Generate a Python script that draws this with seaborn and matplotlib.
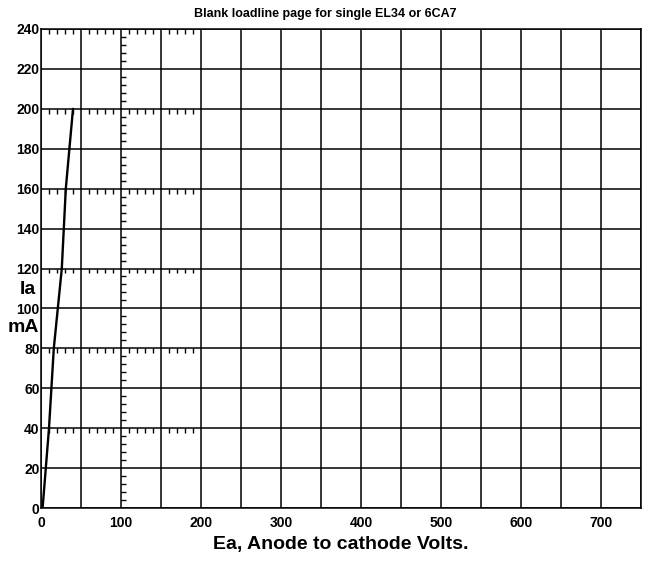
import numpy as np
import pandas as pd
import matplotlib
matplotlib.use("Agg")
import matplotlib.pyplot as plt
import seaborn as sns

# data
ea_volts = [2, 6, 10, 16, 21, 26, 31, 40]
ia_ma = [0, 20, 40, 80, 100, 120, 160, 200]
x_tick_labels = ["0", "", "100", "", "200", "", "300", "", "400", "", "500", "", "600", "", "700", ""]
y_tick_labels = ["0", "20", "40", "60", "80", "100", "120", "140", "160", "180", "200", "220", "240"]
title = "Blank loadline page for single EL34 or 6CA7"
xlabel = "Ea, Anode to cathode Volts."

sns.set_theme(style="white")
plt.rcParams['font.family'] = ['Liberation Sans', 'DejaVu Sans']
plt.rcParams['text.color'] = 'black'
plt.rcParams['xtick.color'] = 'black'
plt.rcParams['ytick.color'] = 'black'
plt.rcParams['axes.labelcolor'] = 'black'

fig = plt.figure(figsize=(6.59, 5.64), dpi=100)
ax = fig.add_axes([41/659, 56/564, 600/659, 479/564])

df = pd.DataFrame({"Ea": ea_volts, "Ia": ia_ma})
sns.lineplot(data=df, x="Ea", y="Ia", ax=ax, color="black", linewidth=1.7, sort=False)

ax.set_xlim(0, 750)
ax.set_ylim(0, 240)
ax.set_xticks(np.arange(0, 751, 50))
ax.set_xticklabels(x_tick_labels)
ax.set_yticks(np.arange(0, 241, 20))
ax.set_yticklabels(y_tick_labels)
ax.grid(True, color="black", linewidth=1.1)
ax.set_axisbelow(True)
for s in ax.spines.values():
    s.set_color("black")
    s.set_linewidth(1.1)

ax.tick_params(axis="x", which="major", direction="out", length=5, width=1.1, color="black",
               labelsize=10, pad=1, labelcolor="black")
ax.tick_params(axis="y", which="major", direction="out", length=0, labelsize=10, pad=1,
               labelcolor="black")
for lab in ax.get_xticklabels() + ax.get_yticklabels():
    lab.set_fontweight("bold")

ax.set_xticks(np.arange(0, 751, 10), minor=True)
ax.set_yticks(np.arange(0, 241, 4), minor=True)
ax.tick_params(axis="both", which="minor", direction="in", length=5, width=1, color="black")

# interior minor tick rows (decoration)
minor_x = [v for v in range(10, 200, 10) if v % 50 != 0]
for yy in range(40, 241, 40):
    ax.vlines(minor_x, yy - 2.5, yy, color="black", linewidth=1)
minor_y = [v for v in range(4, 240, 4) if v % 20 != 0]
ax.hlines(minor_y, 100, 106, color="black", linewidth=1)

ax.set_xlabel("")
ax.set_ylabel("")
fig.text(325/659, 1 - 14/564, title, ha="center", va="center", fontsize=9, fontweight="bold", color="black")
fig.text(341/659, 1 - 545/564, xlabel, ha="center", va="center", fontsize=14, fontweight="bold", color="black")
fig.text(28/659, 1 - 290/564, "Ia", ha="center", va="center", fontsize=14, fontweight="bold", color="black")
fig.text(23/659, 1 - 328/564, "mA", ha="center", va="center", fontsize=14, fontweight="bold", color="black")

fig.savefig("out.png", dpi=100, facecolor="white")
